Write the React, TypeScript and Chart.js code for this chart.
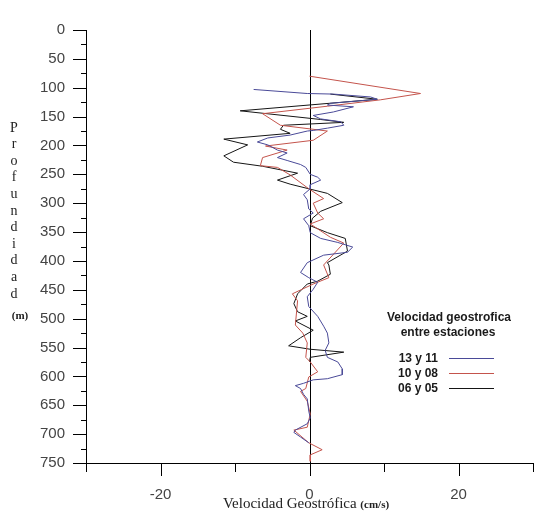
import { useEffect, useRef } from "react";
import { Chart, registerables } from "chart.js";

Chart.register(...registerables);

// ---- data (velocity cm/s vs depth m) ----
const seriesNames = ["13 y 11", "10 y 08", "06 y 05"];
const seriesColors = ["#4a4a98", "#c4544c", "#151515"];

const depth1311 = [103, 110, 111, 116, 120, 127, 130, 133, 142, 148, 154, 159, 165, 170, 174, 175, 182, 187, 194, 199, 208, 213, 221, 226, 233, 238, 250, 255, 260, 268, 275, 285, 294, 310, 317, 327, 339, 351, 361, 368, 376, 385, 390, 403, 420, 429, 437, 449, 462, 479, 496, 513, 525, 542, 555, 567, 575, 587, 597, 604, 606, 612, 616, 621, 631, 639, 660, 672, 682, 693, 697, 705, 715];
const vel1311 = [-7.5, -0.3, 3.2, 8.2, 9.1, 2.8, 2.4, 5.9, 3.2, 0.5, 1.5, 4.2, 4.6, 2.4, 0.5, -0.3, -2.6, -5.6, -7.0, -5.6, -4.3, -3.0, -4.3, -3.0, -1.2, -0.5, 0.1, 1.1, 1.5, 0.1, 0.1, -0.8, -0.3, -0.1, 0.5, -0.8, -0.1, 0.1, 1.5, 3.8, 5.8, 5.1, 1.9, -0.3, -1.2, -0.1, 1.1, 0.5, -0.3, -0.1, 1.1, 1.9, 2.4, 2.6, 2.1, 2.4, 3.8, 4.4, 4.4, 2.4, 0.5, -0.8, -1.9, -1.2, -0.8, -0.3, -0.1, 0.1, -0.3, -1.9, -2.1, -1.2, -0.1];

const depth1008 = [80, 110, 121, 132, 145, 165, 175, 191, 201, 208, 221, 235, 238, 251, 275, 292, 300, 317, 327, 336, 359, 369, 407, 429, 440, 457, 469, 511, 525, 542, 567, 575, 592, 601, 621, 626, 643, 665, 688, 693, 715, 727, 736, 747];
const vel1008 = [0, 14.9, 9.5, 2.4, -6.3, -3.9, 2.4, 0.5, -5.9, -3.0, -6.3, -6.6, -4.3, -2.6, -0.1, 1.9, 0.5, 1.1, 1.9, 0.1, 2.8, 4.6, 1.9, 2.6, 0.5, -2.3, -1.6, -1.9, -0.9, -0.3, -0.5, 0.1, 1.1, -0.1, -0.5, -1.2, -0.3, 0.1, -0.3, -2.1, -0.1, 1.7, 0.1, 0.1];

const depth0605 = [111, 120, 140, 155, 160, 165, 172, 179, 189, 199, 218, 229, 236, 248, 260, 267, 275, 283, 299, 314, 326, 339, 351, 361, 383, 403, 407, 423, 435, 440, 457, 474, 488, 496, 504, 520, 533, 547, 553, 558, 567, 575];
const vel0605 = [2.8, 9.1, -9.3, 1.5, 4.6, -3.5, -3.9, -2.6, -11.5, -8.3, -11.5, -10.2, -6.3, -1.6, -4.3, -2.6, -0.1, 2.4, 4.4, 1.5, 0.4, 0.1, 2.4, 4.8, 5.1, 2.4, 2.6, 2.8, 1.1, -0.3, -1.6, -2.1, -1.6, -0.3, -1.9, 0.5, -1.2, -2.8, 0.1, 4.6, 0.1, 0];

const xMin = -30;
const xMax = 30;
const xLabelled = [-20, 0, 20];
const yMin = 0;
const yMax = 750;
const yLabelStep = 50;
const yMinorStep = 25;
const xMinorStep = 10;

const legendTitle = ["Velocidad geostrofica", "entre estaciones"];
const yTitle = "Profundidad";
const yUnit = "(m)";
const xTitle = "Velocidad Geostrófica";
const xUnit = "(cm/s)";

const seriesDepths = [depth1311, depth1008, depth0605];
const seriesVels = [vel1311, vel1008, vel0605];

const decorPlugin = {
  id: "decor",
  beforeDatasetsDraw(chart: any) {
    const { ctx, chartArea: a, scales } = chart;
    const px = Math.round(scales.x.getPixelForValue(0)) + 0.5;
    ctx.save();
    ctx.strokeStyle = "#000";
    ctx.lineWidth = 1;
    ctx.beginPath();
    ctx.moveTo(px, a.top);
    ctx.lineTo(px, a.bottom);
    ctx.stroke();
    ctx.restore();
  },
  afterDraw(chart: any) {
    const { ctx, chartArea: a, scales } = chart;
    const xs = scales.x;
    const ys = scales.y;
    ctx.save();
    ctx.strokeStyle = "#000";
    ctx.lineWidth = 1;
    // y ticks
    for (let v = yMin; v <= yMax; v += yMinorStep) {
      const py = Math.round(ys.getPixelForValue(v)) + 0.5;
      const len = v % yLabelStep === 0 ? 13 : 5;
      ctx.beginPath();
      ctx.moveTo(a.left - len, py);
      ctx.lineTo(a.left, py);
      ctx.stroke();
    }
    // y axis extension below
    const lx = Math.round(a.left) + 0.5;
    ctx.beginPath();
    ctx.moveTo(lx, a.bottom);
    ctx.lineTo(lx, a.bottom + 6);
    ctx.stroke();
    // x ticks
    for (let v = xMin; v <= xMax; v += xMinorStep) {
      const px = Math.round(xs.getPixelForValue(v)) + 0.5;
      const len = xLabelled.includes(v) ? 13 : 9;
      ctx.beginPath();
      ctx.moveTo(px, a.bottom);
      ctx.lineTo(px, a.bottom + len);
      ctx.stroke();
    }

    // y title stacked letters
    ctx.fillStyle = "#222";
    ctx.textAlign = "center";
    ctx.textBaseline = "middle";
    ctx.font = "14px 'Liberation Serif'";
    const letters = yTitle.split("");
    letters.forEach((ch, i) => {
      ctx.fillText(ch, 14, 128 + i * 16.6);
    });
    ctx.font = "bold 11px 'Liberation Serif'";
    ctx.fillText(yUnit, 20, 316);

    // x title
    ctx.textAlign = "left";
    ctx.textBaseline = "alphabetic";
    ctx.font = "15px 'Liberation Serif'";
    const w1 = ctx.measureText(xTitle + " ").width;
    ctx.font = "bold 11px 'Liberation Serif'";
    const w2 = ctx.measureText(xUnit).width;
    const startX = 306 - (w1 + w2) / 2;
    ctx.font = "15px 'Liberation Serif'";
    ctx.fillText(xTitle + " ", startX, 508);
    ctx.font = "bold 11px 'Liberation Serif'";
    ctx.fillText(xUnit, startX + w1, 508);

    // legend
    ctx.fillStyle = "#1a1a1a";
    ctx.textAlign = "center";
    ctx.textBaseline = "middle";
    ctx.font = "bold 12px 'Liberation Sans'";
    ctx.fillText(legendTitle[0], 449, 318);
    ctx.fillText(legendTitle[1], 448, 333);
    const rowY = [358, 373, 388];
    seriesNames.forEach((name, i) => {
      ctx.textAlign = "right";
      ctx.fillStyle = "#1a1a1a";
      ctx.fillText(name, 438, rowY[i] + 1);
      ctx.strokeStyle = seriesColors[i];
      ctx.beginPath();
      ctx.moveTo(449, rowY[i] + 0.5);
      ctx.lineTo(494, rowY[i] + 0.5);
      ctx.stroke();
    });
    ctx.restore();
  },
};

export default function App() {
  const ref = useRef<HTMLCanvasElement | null>(null);
  useEffect(() => {
    if (!ref.current) return;
    const datasets = seriesNames.map((name, i) => ({
      label: name,
      data: seriesDepths[i].map((d, j) => ({ x: seriesVels[i][j], y: d })),
      borderColor: seriesColors[i],
      backgroundColor: seriesColors[i],
      borderWidth: 1,
      showLine: true,
      pointRadius: 0,
      tension: 0,
      fill: false,
    }));
    const chart = new Chart(ref.current, {
      type: "scatter",
      data: { datasets },
      options: {
        animation: false,
        responsive: false,
        devicePixelRatio: 1,
        layout: { padding: { top: 19, right: 1, bottom: 0, left: 0 } },
        plugins: { legend: { display: false }, tooltip: { enabled: false } },
        scales: {
          x: {
            type: "linear",
            position: "bottom",
            min: xMin,
            max: xMax,
            afterFit: (s: any) => {
              s.height = 48;
              s.paddingLeft = 0;
              s.paddingRight = 0;
            },
            grid: { display: false, drawTicks: false },
            border: { display: true, color: "#000", width: 1 },
            ticks: {
              stepSize: xMinorStep,
              autoSkip: false,
              maxRotation: 0,
              padding: 23,
              color: "#444",
              font: { family: "'Liberation Sans'", size: 15 },
              callback: (v: any) => (xLabelled.includes(Number(v)) ? String(v) : ""),
            },
          },
          y: {
            type: "linear",
            reverse: true,
            min: yMin,
            max: yMax,
            afterFit: (s: any) => {
              s.width = 86;
            },
            grid: { display: false, drawTicks: false },
            border: { display: true, color: "#000", width: 1 },
            ticks: {
              stepSize: yLabelStep,
              autoSkip: false,
              padding: 21,
              color: "#444",
              font: { family: "'Liberation Sans'", size: 15 },
            },
          },
        },
      },
      plugins: [decorPlugin],
    });
    return () => chart.destroy();
  }, []);
  return (
    <div style={{ position: "absolute", left: 0, top: 0, width: 534, height: 511 }}>
      <canvas ref={ref} width={534} height={511} style={{ display: "block" }} />
    </div>
  );
}
